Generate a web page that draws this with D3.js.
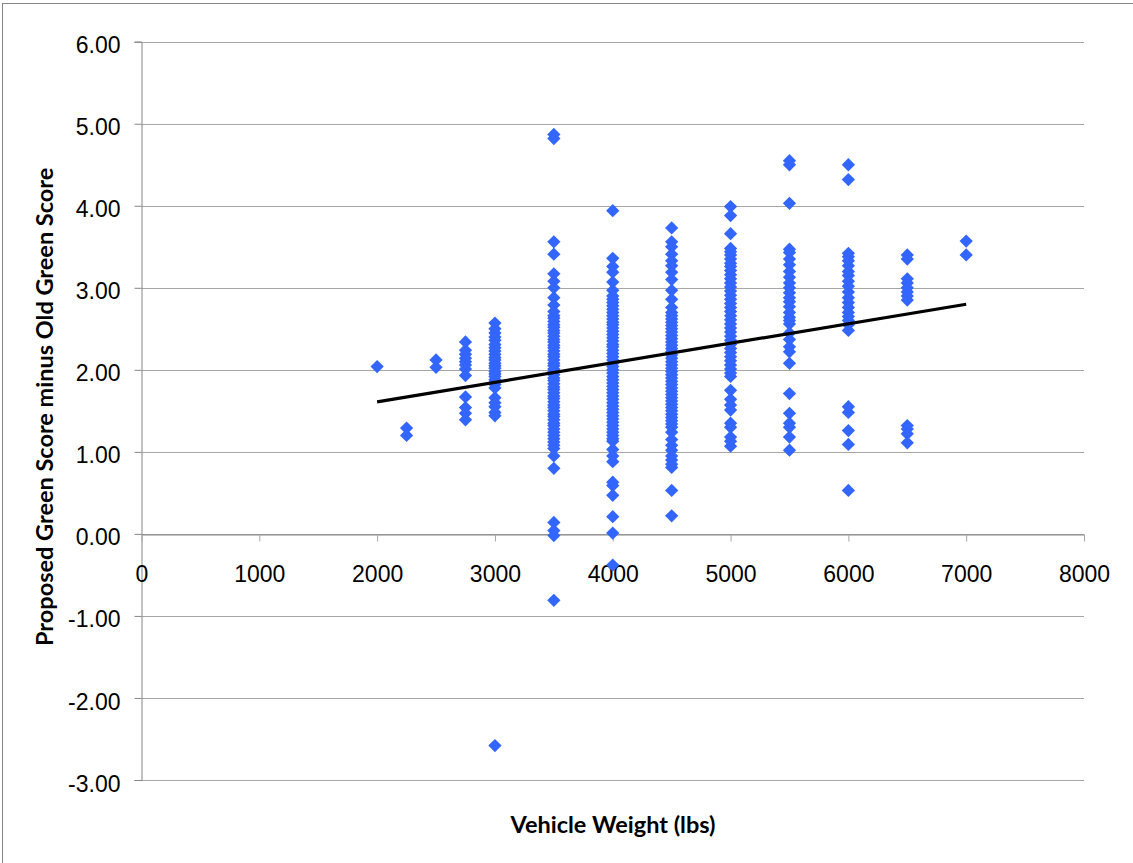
<!DOCTYPE html>
<html>
<head>
<meta charset="utf-8">
<script src="https://cdn.jsdelivr.net/npm/d3@7"></script>
<style>
  body { margin: 0; background: #fff; }
  svg { display: block; font-family: Lato, "Open Sans", sans-serif; }
</style>
</head>
<body>
<div id="chart"></div>
<script>
// score differences, one array per vehicle weight class (lbs)
const w2000 = [2.04];
const w2250 = [1.29, 1.20];
const w2500 = [2.12, 2.03];
const w2750 = [2.34, 2.24, 2.19, 2.14, 2.10, 2.06, 2.01, 1.93, 1.67, 1.54, 1.47, 1.39];
const w3000 = [2.57, 2.50, 2.45, 2.40, 2.36, 2.31, 2.27, 2.23, 2.19, 2.15, 2.12, 2.08, 2.05, 2.02,
  1.98, 1.95, 1.92, 1.88, 1.85, 1.82, 1.78, 1.66, 1.60, 1.55, 1.48, 1.44, -2.58];
const w3500 = [4.87, 4.82, 3.56, 3.41, 3.17, 3.08, 3.00, 2.88, 2.79, 2.71, 2.66, 2.63, 2.59, 2.55,
  2.52, 2.48, 2.45, 2.41, 2.37, 2.34, 2.30, 2.27, 2.23, 2.19, 2.16, 2.12, 2.08, 2.05, 2.01, 1.98,
  1.94, 1.90, 1.87, 1.83, 1.79, 1.76, 1.72, 1.68, 1.65, 1.61, 1.57, 1.54, 1.50, 1.46, 1.43, 1.39,
  1.35, 1.32, 1.28, 1.24, 1.20, 1.16, 1.12, 1.08, 1.04, 0.95, 0.80, 0.14, 0.04, -0.02, -0.81];
const w4000 = [3.94, 3.36, 3.26, 3.19, 3.07, 2.97, 2.90, 2.86, 2.82, 2.78, 2.74, 2.70, 2.66, 2.62,
  2.58, 2.55, 2.51, 2.47, 2.43, 2.39, 2.35, 2.31, 2.28, 2.24, 2.20, 2.16, 2.12, 2.08, 2.04, 2.00,
  1.96, 1.92, 1.88, 1.84, 1.80, 1.76, 1.72, 1.68, 1.64, 1.60, 1.56, 1.52, 1.48, 1.44, 1.40, 1.36,
  1.32, 1.28, 1.24, 1.20, 1.16, 1.13, 1.03, 0.95, 0.88, 0.63, 0.59, 0.47, 0.21, 0.01, -0.38];
const w4500 = [3.73, 3.56, 3.50, 3.41, 3.33, 3.27, 3.19, 3.10, 2.97, 2.86, 2.76, 2.70, 2.66, 2.62,
  2.58, 2.54, 2.50, 2.46, 2.42, 2.38, 2.34, 2.30, 2.26, 2.22, 2.18, 2.14, 2.10, 2.06, 2.02, 1.98,
  1.94, 1.90, 1.86, 1.82, 1.78, 1.74, 1.70, 1.66, 1.62, 1.58, 1.54, 1.50, 1.46, 1.42, 1.38, 1.34,
  1.30, 1.24, 1.15, 1.08, 1.02, 0.95, 0.90, 0.85, 0.81, 0.53, 0.22];
const w5000 = [3.99, 3.88, 3.66, 3.48, 3.44, 3.40, 3.35, 3.30, 3.26, 3.21, 3.16, 3.11, 3.06, 3.01,
  2.96, 2.91, 2.86, 2.81, 2.76, 2.71, 2.66, 2.61, 2.56, 2.51, 2.46, 2.41, 2.36, 2.31, 2.26, 2.21,
  2.16, 2.11, 2.06, 2.01, 1.96, 1.92, 1.75, 1.64, 1.57, 1.51, 1.35, 1.30, 1.18, 1.13, 1.07];
const w5500 = [4.55, 4.50, 4.03, 3.47, 3.43, 3.35, 3.28, 3.20, 3.13, 3.06, 3.00, 2.94, 2.88, 2.83,
  2.77, 2.70, 2.64, 2.60, 2.56, 2.45, 2.37, 2.28, 2.22, 2.08, 1.71, 1.47, 1.35, 1.30, 1.18, 1.02];
const w6000 = [4.50, 4.32, 3.42, 3.38, 3.33, 3.27, 3.20, 3.15, 3.08, 3.02, 2.95, 2.88, 2.82, 2.76,
  2.70, 2.65, 2.60, 2.55, 2.48, 1.55, 1.48, 1.26, 1.09, 0.53];
const w6500 = [3.40, 3.35, 3.11, 3.06, 3.00, 2.95, 2.90, 2.85, 1.32, 1.28, 1.22, 1.11];
const w7000 = [3.57, 3.40];

const weightClasses = [2000, 2250, 2500, 2750, 3000, 3500, 4000, 4500, 5000, 5500, 6000, 6500, 7000];
const scoreGroups = [w2000, w2250, w2500, w2750, w3000, w3500, w4000, w4500, w5000, w5500, w6000, w6500, w7000];

// linear trendline end points
const trendWeights = [2000, 7000];
const trendScores = [1.61, 2.80];

const xTicks = [0, 1000, 2000, 3000, 4000, 5000, 6000, 7000, 8000];
const yTicks = [-3, -2, -1, 0, 1, 2, 3, 4, 5, 6];

const width = 1133;
const height = 863;
const plotLeft = 141.5, plotRight = 1084, plotTop = 41.7, plotBottom = 780;

const svg = d3.select("#chart")
  .append("svg")
  .attr("width", width)
  .attr("height", height);

// chart frame (right / bottom edges fall outside the view)
svg.append("rect")
  .attr("x", 2.5).attr("y", 3.5)
  .attr("width", width + 10).attr("height", height + 10)
  .attr("fill", "#fff")
  .attr("stroke", "#868686")
  .attr("stroke-width", 1);

const x = d3.scaleLinear().domain([0, 8000]).range([plotLeft, plotRight]);
const y = d3.scaleLinear().domain([-3, 6]).range([plotBottom, plotTop]);

// horizontal gridlines
svg.append("g")
  .selectAll("line")
  .data(yTicks)
  .join("line")
  .attr("x1", plotLeft)
  .attr("x2", plotRight)
  .attr("y1", (d) => Math.round(y(d)) + 0.5)
  .attr("y2", (d) => Math.round(y(d)) + 0.5)
  .attr("stroke", "#a6a6a6")
  .attr("stroke-width", 1);

// y axis (plain hyphen for negatives, like the original)
const yAxis = svg.append("g")
  .attr("transform", `translate(${plotLeft},0)`)
  .call(d3.axisLeft(y).tickValues(yTicks).tickSize(7).tickPadding(14)
    .tickFormat((d) => d.toFixed(2)));
yAxis.select(".domain").attr("stroke", "#868686");
yAxis.selectAll(".tick line").attr("stroke", "#868686");
yAxis.selectAll("text")
  .attr("dy", "0.48em")
  .style("font-size", "23px")
  .style("fill", "#000");

// x axis crosses at y = 0
const xAxis = svg.append("g")
  .attr("transform", `translate(0,${Math.round(y(0)) + 0.5})`)
  .call(d3.axisBottom(x).tickValues(xTicks).tickSize(7).tickPadding(24)
    .tickSizeOuter(0).tickFormat((d) => String(d)));
xAxis.select(".domain").attr("stroke", "#868686");
xAxis.selectAll(".tick line").attr("stroke", "#a6a6a6");
xAxis.selectAll("text")
  .style("font-size", "23px")
  .style("fill", "#000");

// points
const points = [];
weightClasses.forEach((w, i) => {
  scoreGroups[i].forEach((s) => points.push({ weight: w, score: s }));
});

const diamond = d3.symbol().type(d3.symbolSquare).size(88);

svg.append("g")
  .selectAll("path")
  .data(points)
  .join("path")
  .attr("d", diamond)
  .attr("transform", (d) => `translate(${x(d.weight)},${y(d.score)}) rotate(45)`)
  .attr("fill", "#3366ff");

// trendline
const trend = trendWeights.map((w, i) => [w, trendScores[i]]);
svg.append("path")
  .datum(trend)
  .attr("d", d3.line().x((d) => x(d[0])).y((d) => y(d[1])))
  .attr("fill", "none")
  .attr("stroke", "#000")
  .attr("stroke-width", 3.2);

// axis titles
svg.append("text")
  .attr("x", 613)
  .attr("y", 833)
  .attr("text-anchor", "middle")
  .style("font-size", "23.5px")
  .style("font-weight", "bold")
  .text("Vehicle Weight (lbs)");

svg.append("text")
  .attr("transform", `translate(53,${(plotTop + plotBottom) / 2 - 4}) rotate(-90)`)
  .attr("text-anchor", "middle")
  .style("font-size", "23.5px")
  .style("font-weight", "bold")
  .text("Proposed Green Score minus Old Green Score");
</script>
</body>
</html>
